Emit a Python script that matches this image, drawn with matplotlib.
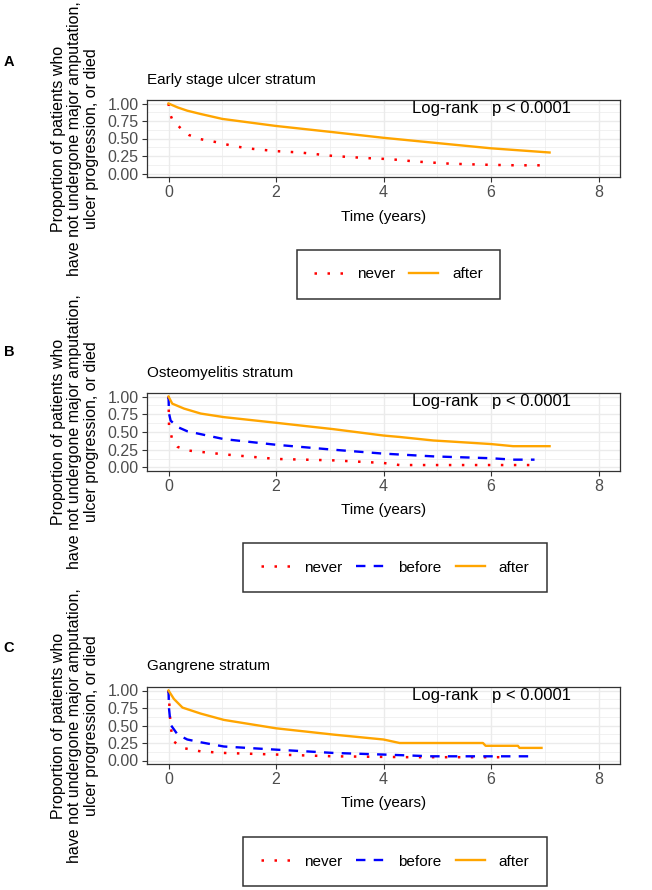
import matplotlib
matplotlib.use("Agg")
import matplotlib.pyplot as plt
from matplotlib.lines import Line2D
from matplotlib.ticker import MultipleLocator, FormatStrFormatter

plt.rcParams['font.family'] = ['Liberation Sans', 'DejaVu Sans']

# values (time in years, survival proportion)
a_never_t = [0, 0.02, 0.07, 0.17, 0.26, 0.38, 0.6, 0.91, 1.22, 1.53, 1.99, 2.45, 3.07, 3.69, 4.12, 4.62, 5.24, 5.85, 6.47, 7.03]
a_never_s = [1.0, 0.87, 0.77, 0.69, 0.62, 0.55, 0.49, 0.445, 0.39, 0.355, 0.32, 0.30, 0.25, 0.22, 0.205, 0.17, 0.14, 0.126, 0.117, 0.117]
a_after_t = [0, 0.17, 0.35, 0.6, 1.0, 1.99, 3.07, 4.0, 4.93, 6.0, 7.09]
a_after_s = [1.0, 0.944, 0.897, 0.85, 0.78, 0.68, 0.59, 0.51, 0.44, 0.36, 0.30]

b_never_t = [0, 0.01, 0.07, 0.17, 0.35, 1.03, 2.0, 3.07, 4.0, 4.3, 5.0, 6.72]
b_never_s = [1.0, 0.59, 0.39, 0.29, 0.24, 0.185, 0.12, 0.10, 0.063, 0.034, 0.034, 0.034]
b_before_t = [0, 0.01, 0.04, 0.17, 0.35, 1.03, 2.0, 3.07, 4.0, 4.93, 6.0, 6.41, 6.81]
b_before_s = [1.0, 0.76, 0.66, 0.57, 0.51, 0.40, 0.32, 0.25, 0.195, 0.156, 0.13, 0.11, 0.11]
b_after_t = [0, 0.07, 0.29, 0.6, 1.03, 2.0, 3.07, 4.0, 4.3, 4.93, 5.24, 6.0, 6.41, 7.09]
b_after_s = [1.0, 0.90, 0.83, 0.76, 0.71, 0.63, 0.54, 0.45, 0.43, 0.38, 0.366, 0.33, 0.30, 0.30]

c_never_t = [0, 0.01, 0.04, 0.1, 0.26, 0.6, 1.03, 2.0, 3.07, 4.5, 6.16]
c_never_s = [1.0, 0.88, 0.47, 0.27, 0.18, 0.13, 0.108, 0.085, 0.06, 0.047, 0.047]
c_before_t = [0, 0.01, 0.04, 0.17, 0.35, 0.6, 1.03, 2.0, 3.07, 4.0, 4.9, 6.72]
c_before_s = [1.0, 0.74, 0.51, 0.37, 0.30, 0.26, 0.20, 0.155, 0.108, 0.085, 0.06, 0.06]
c_after_t = [0, 0.1, 0.26, 0.6, 1.03, 2.0, 3.07, 4.0, 4.3, 5.85, 5.9, 6.5, 6.53, 6.94]
c_after_s = [1.0, 0.88, 0.756, 0.67, 0.58, 0.46, 0.37, 0.30, 0.25, 0.25, 0.21, 0.21, 0.18, 0.18]

group_names = ["never", "before", "after"]
panel_titles = ["Early stage ulcer stratum", "Osteomyelitis stratum", "Gangrene stratum"]
panel_tags = ["A", "B", "C"]
pval_text = "Log-rank   p < 0.0001"
ylab = "Proportion of patients who\nhave not undergone major amputation,\nulcer progression, or died"

styles = {
    "never": dict(color="#FF0000", lw=1.8, ls=(0, (1.0, 4.2)), dash_capstyle="butt"),
    "before": dict(color="#0000FF", lw=1.7, ls=(0, (4, 3.5))),
    "after": dict(color="#FFA500", lw=1.7, ls="-"),
}

panels = [
    {"never": (a_never_t, a_never_s), "after": (a_after_t, a_after_s)},
    {"never": (b_never_t, b_never_s), "before": (b_before_t, b_before_s), "after": (b_after_t, b_after_s)},
    {"never": (c_never_t, c_never_s), "before": (c_before_t, c_before_s), "after": (c_after_t, c_after_s)},
]

W, H = 652, 890
fig = plt.figure(figsize=(W / 100, H / 100), dpi=100)

# pixel geometry per panel: axes top/bottom, title y, x-label y, legend box, tag y
ax_left, ax_right = 147, 620
geom = [
    dict(top=100, bot=177, title=80, xlab=217, leg=(294, 503, 249, 300), tag=62),
    dict(top=393, bot=471, title=373, xlab=510, leg=(244, 546, 542, 593), tag=352),
    dict(top=687, bot=764, title=666, xlab=803, leg=(244, 546, 836, 887), tag=648),
]

for i, (data, g) in enumerate(zip(panels, geom)):
    ax = fig.add_axes([ax_left / W, 1 - g["bot"] / H, (ax_right - ax_left) / W, (g["bot"] - g["top"]) / H])
    ax.set_xlim(-0.4, 8.4)
    ax.set_ylim(-0.05, 1.05)
    ax.xaxis.set_major_locator(MultipleLocator(2))
    ax.xaxis.set_minor_locator(MultipleLocator(1))
    ax.yaxis.set_major_locator(MultipleLocator(0.25))
    ax.yaxis.set_minor_locator(MultipleLocator(0.125))
    ax.grid(True, which="major", color="#EBEBEB", lw=1.0)
    ax.grid(True, which="minor", color="#EBEBEB", lw=0.5)
    ax.set_axisbelow(True)
    for sp in ax.spines.values():
        sp.set_color("#333333")
        sp.set_linewidth(0.9)
    ax.tick_params(which="major", direction="out", length=3.5, width=0.8, color="#333333",
                   labelsize=11.5, labelcolor="#4D4D4D", pad=2.5)
    ax.tick_params(which="minor", length=0)
    ax.yaxis.set_major_formatter(FormatStrFormatter("%.2f"))
    ax.xaxis.set_major_formatter(FormatStrFormatter("%d"))

    for name in group_names:
        if name in data:
            t, s = data[name]
            ax.plot(t, s, **styles[name])

    ax.text(6.0, 0.93, pval_text, ha="center", va="center", fontsize=12, color="black")

    cx = (ax_left + ax_right) / 2
    fig.text(ax_left / W, 1 - g["title"] / H, panel_titles[i], ha="left", va="center", fontsize=11)
    fig.text(cx / W, 1 - g["xlab"] / H, "Time (years)", ha="center", va="center", fontsize=11)
    fig.text(75 / W, 1 - (g["top"] + g["bot"]) / 2 / H, ylab, rotation=90, ha="center", va="center",
             fontsize=11.5, linespacing=1.1, multialignment="center")
    fig.text(9 / W, 1 - g["tag"] / H, panel_tags[i], ha="center", va="center", fontsize=10.5, fontweight="bold")

    handles = [Line2D([], [], **styles[n]) for n in group_names if n in data]
    labels = [n for n in group_names if n in data]
    l, r, t_, b = g["leg"]
    leg = fig.legend(handles, labels, loc="center", ncol=len(labels),
                     bbox_to_anchor=((l + r) / 2 / W, 1 - (t_ + b) / 2 / H),
                     fontsize=11, frameon=True, fancybox=False, edgecolor="black",
                     handlelength=1.9, handletextpad=0.9, columnspacing=0.9, borderpad=1.15)
    leg.get_frame().set_linewidth(1.1)

fig.savefig("out.png", dpi=100)
